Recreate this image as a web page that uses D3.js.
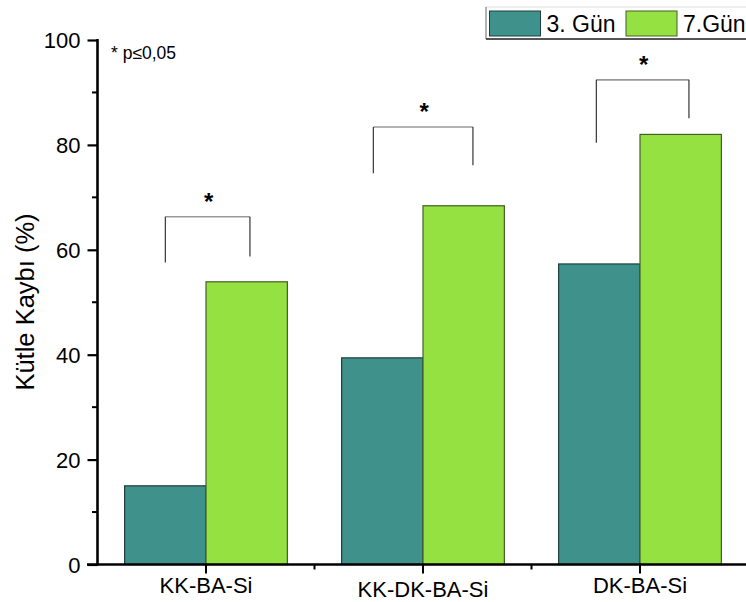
<!DOCTYPE html>
<html>
<head>
<meta charset="utf-8">
<script src="https://cdn.jsdelivr.net/npm/d3@7"></script>
<style>
    body { margin: 0; background: #fff; }
    svg { display: block; font-family: Arial, "Liberation Sans", sans-serif; }
</style>
</head>
<body>
<div id="chart"></div>
<script>
var categories = ["KK-BA-Si", "KK-DK-BA-Si", "DK-BA-Si"];
var seriesNames = ["3. Gün", "7.Gün"];
var day3Values = [15.0, 39.4, 57.3];
var day7Values = [53.9, 68.4, 82.0];
var yTicks = [0, 20, 40, 60, 80, 100];
var yMinorTicks = [10, 30, 50, 70, 90];

// significance brackets: top of bracket and bottom of each leg, in % units
var bracketTops = [66.3, 83.4, 92.4];
var bracketLeftBottoms = [57.6, 74.6, 80.4];
var bracketRightBottoms = [58.7, 76.1, 85.1];

var width = 746, height = 602;
var colors = ["#3f918b", "#95e142"];
var strokes = ["#1f3f3c", "#445f28"];
var fontFamily = "Arial, 'Liberation Sans', sans-serif";

var svg = d3.select("#chart").append("svg")
    .attr("width", width).attr("height", height);

var x = d3.scaleBand().domain(categories).range([97.5, 748.5])
    .paddingInner(0.25).paddingOuter(0.125);
var sub = d3.scaleBand().domain(seriesNames).range([0, x.bandwidth()]);
var y = d3.scaleLinear().domain([0, 100]).range([564.5, 40]);

var rows = categories.map(function (c, i) {
    return { cat: c, values: [day3Values[i], day7Values[i]] };
});

// bars
var groups = svg.selectAll("g.group").data(rows).enter().append("g")
    .attr("class", "group")
    .attr("transform", function (d) { return "translate(" + x(d.cat) + ",0)"; });

groups.selectAll("rect").data(function (d) {
    return d.values.map(function (v, j) { return { name: seriesNames[j], value: v, j: j }; });
}).enter().append("rect")
    .attr("x", function (d) { return sub(d.name); })
    .attr("y", function (d) { return y(d.value); })
    .attr("width", sub.bandwidth())
    .attr("height", function (d) { return y(0) - y(d.value); })
    .style("fill", function (d) { return colors[d.j]; })
    .style("stroke", function (d) { return strokes[d.j]; })
    .style("stroke-width", 1.2);

// brackets
var legX = [0.25, 0.77];
rows.forEach(function (d, i) {
    var x0 = x(d.cat) + x.bandwidth() * legX[0];
    var x1 = x(d.cat) + x.bandwidth() * legX[1];
    if (i === 1) { x0 -= 9; x1 += 6; }
    if (i === 2) { x0 -= 3; x1 += 5; }
    var yt = y(bracketTops[i]);
    svg.append("line").attr("x1", x0).attr("x2", x1).attr("y1", yt).attr("y2", yt)
        .style("stroke", "#999").style("stroke-width", 1.6);
    svg.append("line").attr("x1", x0).attr("x2", x0).attr("y1", yt).attr("y2", y(bracketLeftBottoms[i]))
        .style("stroke", "#222").style("stroke-width", 1.1);
    svg.append("line").attr("x1", x1).attr("x2", x1).attr("y1", yt).attr("y2", y(bracketRightBottoms[i]))
        .style("stroke", "#222").style("stroke-width", 1.1);
    svg.append("text").attr("x", (x0 + x1) / 2 + 1).attr("y", yt - 7)
        .attr("text-anchor", "middle").style("font-size", "24px").style("font-weight", "bold").text("*");
});

// y axis
var yAxis = d3.axisLeft(y).tickValues(yTicks).tickSize(10).tickPadding(7);
var gy = svg.append("g").attr("transform", "translate(97.5,0)").call(yAxis);
gy.select(".domain").remove();
gy.selectAll(".tick line").style("stroke", "#000").style("stroke-width", 2.2);
gy.selectAll(".tick text").style("font-size", "22px").style("font-family", fontFamily)
    .attr("dy", "0.36em");
svg.selectAll("line.yminor").data(yMinorTicks).enter().append("line")
    .attr("class", "yminor")
    .attr("x1", 92).attr("x2", 97.5)
    .attr("y1", function (d) { return y(d); }).attr("y2", function (d) { return y(d); })
    .style("stroke", "#000").style("stroke-width", 2);
svg.append("line").attr("x1", 97.5).attr("x2", 97.5).attr("y1", y(100) - 1).attr("y2", y(0) + 1)
    .style("stroke", "#000").style("stroke-width", 2.6);

// x axis
var xAxis = d3.axisBottom(x).tickSize(9).tickPadding(8);
var gx = svg.append("g").attr("transform", "translate(0," + y(0) + ")").call(xAxis);
gx.select(".domain").remove();
gx.selectAll(".tick line").style("stroke", "#000").style("stroke-width", 2);
gx.selectAll(".tick text").style("font-size", "22px").style("font-family", fontFamily)
    .attr("y", function (d, i) { return i === 1 ? 32 : 28.5; })
    .attr("dy", null);
var xMinor = categories.slice(1).map(function (c) { return x(c) - x.step() * x.paddingInner() / 2; });
svg.selectAll("line.xminor").data(xMinor).enter().append("line")
    .attr("class", "xminor")
    .attr("x1", function (d) { return d; }).attr("x2", function (d) { return d; })
    .attr("y1", y(0)).attr("y2", y(0) + 5)
    .style("stroke", "#000").style("stroke-width", 2);
svg.append("line").attr("x1", 87).attr("x2", width).attr("y1", y(0)).attr("y2", y(0))
    .style("stroke", "#000").style("stroke-width", 2.6);

// axis title
svg.append("text")
    .attr("transform", "translate(34,302) rotate(-90)")
    .attr("text-anchor", "middle")
    .style("font-size", "25.5px")
    .text("Kütle Kaybı (%)");

// significance note
svg.append("text").attr("x", 111).attr("y", 59).style("font-size", "17.5px").text("* p≤0,05");

// legend
var legend = svg.append("g").attr("transform", "translate(486,7)");
legend.append("rect").attr("x", 0).attr("y", 0).attr("width", 280).attr("height", 32)
    .style("fill", "#fff").style("stroke", "#ddd").style("stroke-width", 1);
legend.append("line").attr("x1", 0).attr("x2", 0).attr("y1", 0).attr("y2", 32)
    .style("stroke", "#777").style("stroke-width", 1);
legend.append("line").attr("x1", 0).attr("x2", 280).attr("y1", 32).attr("y2", 32)
    .style("stroke", "#222").style("stroke-width", 1.5);
var legendX = [3.5, 140];
seriesNames.forEach(function (name, j) {
    legend.append("rect").attr("x", legendX[j]).attr("y", 4).attr("width", 51).attr("height", 25)
        .style("fill", colors[j]).style("stroke", strokes[j]).style("stroke-width", 1);
    legend.append("text").attr("x", legendX[j] + 57).attr("y", 24.5).style("font-size", "23px").text(name);
});
</script>
</body>
</html>
